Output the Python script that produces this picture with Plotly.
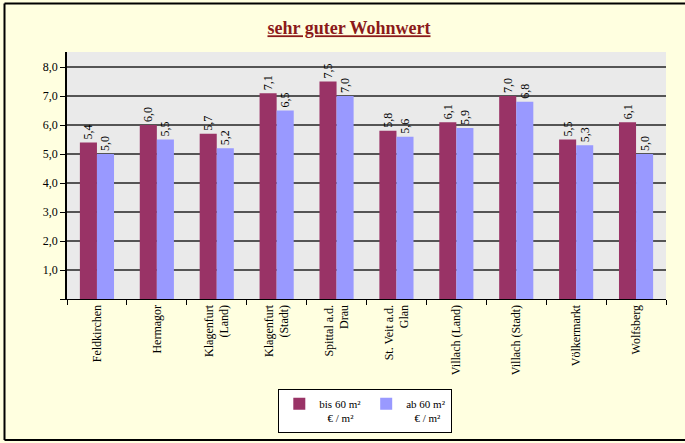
import plotly.graph_objects as go

categories = ["Feldkirchen", "Hermagor", "Klagenfurt<br>(Land)", "Klagenfurt<br>(Stadt)",
              "Spittal a.d.<br>Drau", "St. Veit a.d.<br>Glan", "Villach (Land)",
              "Villach (Stadt)", "Völkermarkt", "Wolfsberg"]
bis_60 = [5.4, 6.0, 5.7, 7.1, 7.5, 5.8, 6.1, 7.0, 5.5, 6.1]
ab_60 = [5.0, 5.5, 5.2, 6.5, 7.0, 5.6, 5.9, 6.8, 5.3, 5.0]
series_names = ["bis 60 m²<br>   € / m²", "ab 60 m²<br>   € / m²"]
y_ticks = [0, 1, 2, 3, 4, 5, 6, 7, 8]

FONT = "Liberation Serif"

fig = go.Figure()
for name, vals, col in [(series_names[0], bis_60, "#993366"), (series_names[1], ab_60, "#9999FF")]:
    fig.add_trace(go.Bar(
        x=categories, y=vals, name=name, marker_color=col, marker_line_width=0,
        texttemplate="%{y:.1f}", textposition="outside", textangle=-90,
        textfont=dict(family=FONT, size=12, color="black"), cliponaxis=False,
    ))

fig.update_layout(
    width=685, height=443,
    margin=dict(l=67, r=19, t=52, b=144, autoexpand=False),
    paper_bgcolor="#FFFFE0", plot_bgcolor="#EAEAEA",
    separators=",.",
    barmode="group", bargap=0.43, bargroupgap=0,
    font=dict(family=FONT, size=12, color="black"),
    title=dict(text="<u><b>sehr guter Wohnwert</b></u>", x=349 / 685, xanchor="center",
               y=1 - 28 / 443, yanchor="middle",
               font=dict(family=FONT, size=18, color="#8B1A1A")),
    legend=dict(orientation="h", x=0.498, xanchor="center",
                yref="container", y=1 - 389 / 443, yanchor="top",
                bgcolor="white", bordercolor="black", borderwidth=1, valign="top",
                font=dict(family=FONT, size=11), itemwidth=30, tracegroupgap=0),
    showlegend=True,
)
fig.update_yaxes(range=[0, 8.52], tickvals=y_ticks,
                 ticktext=["" if v == 0 else f"{v:.1f}".replace(".", ",") for v in y_ticks],
                 showgrid=True, gridcolor="#555555", gridwidth=1.5,
                 showline=True, linecolor="black", linewidth=1.5,
                 ticks="outside", ticklen=5, tickcolor="black",
                 zeroline=True, zerolinecolor="black", zerolinewidth=1.2,
                 tickfont=dict(family=FONT, size=12))
fig.update_xaxes(tickangle=-90, showline=True, linecolor="black", linewidth=1.2,
                 ticks="outside", tickson="boundaries", ticklen=5, tickcolor="black",
                 tickfont=dict(family=FONT, size=12))

# outer frame: left, top, bottom edges (right edge lies outside the picture)
xl, xr = (4.5 - 67) / 599, (700 - 67) / 599
yb, yt = (299 - 440) / 247, (299 - 3.5) / 247
for x0, y0, x1, y1 in [(xl, yb, xl, yt), (xl, yt, xr, yt), (xl, yb, xr, yb)]:
    fig.add_shape(type="line", xref="paper", yref="paper", x0=x0, y0=y0, x1=x1, y1=y1,
                  line=dict(color="black", width=2), layer="below")
fig.write_html("out.html", config={"displayModeBar": False},
               post_script="document.body.style.margin='0';document.body.style.overflow='hidden';")
